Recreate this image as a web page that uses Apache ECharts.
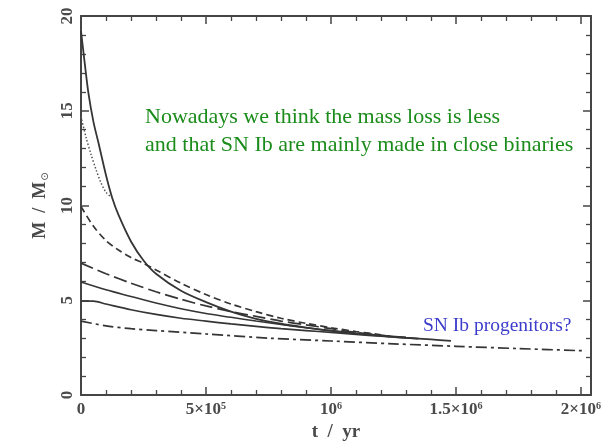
<!DOCTYPE html>
<html>
<head>
<meta charset="utf-8">
<script src="https://cdn.jsdelivr.net/npm/echarts@6/dist/echarts.min.js"></script>
<style>
  html, body { margin: 0; padding: 0; background: #fff; }
  #chart { width: 607px; height: 447px; }
</style>
</head>
<body>
<div id="chart"></div>
<script>
// Time in units of 10^6 yr, mass in solar masses
const xTickLabels = ['0', '5×10⁵', '10⁶', '1.5×10⁶', '2×10⁶'];
const yTickLabels = ['0', '5', '10', '15', '20'];

const t20 = [0, 0.015, 0.03, 0.05, 0.07, 0.1, 0.125, 0.15, 0.2, 0.25, 0.3, 0.4, 0.5, 0.6, 0.7, 0.8, 0.9, 1.0, 1.1, 1.2, 1.3, 1.4, 1.48];
const m20 = [19.2, 17.5, 15.9, 14.4, 13.3, 11.6, 10.4, 9.5, 8.1, 7.1, 6.4, 5.5, 4.9, 4.4, 4.02, 3.76, 3.56, 3.38, 3.24, 3.12, 3.02, 2.93, 2.86];

const t15 = [0, 0.02, 0.04, 0.06, 0.08, 0.1, 0.125];
const m15 = [14.7, 13.6, 12.7, 11.9, 11.2, 10.7, 10.4];

const t10 = [0, 0.05, 0.1, 0.15, 0.2, 0.25, 0.3, 0.4, 0.5, 0.6, 0.7, 0.8, 0.9, 1.0, 1.1, 1.2];
const m10 = [9.95, 8.9, 8.15, 7.65, 7.25, 6.95, 6.6, 5.9, 5.3, 4.8, 4.4, 4.05, 3.78, 3.55, 3.35, 3.18];

const t7 = [0, 0.1, 0.2, 0.3, 0.4, 0.5, 0.6, 0.7, 0.8, 0.9, 1.0, 1.1, 1.25];
const m7 = [6.96, 6.4, 5.9, 5.45, 5.05, 4.7, 4.4, 4.15, 3.9, 3.7, 3.5, 3.3, 3.08];

const t6 = [0, 0.1, 0.2, 0.3, 0.4, 0.5, 0.6, 0.7, 0.8, 0.9, 1.0, 1.1, 1.2, 1.3];
const m6 = [5.96, 5.55, 5.2, 4.85, 4.55, 4.3, 4.1, 3.9, 3.72, 3.55, 3.4, 3.27, 3.15, 3.05];

const t5 = [0, 0.05, 0.1, 0.2, 0.3, 0.4, 0.5, 0.6, 0.7, 0.8, 0.9, 1.0, 1.1, 1.2, 1.35];
const m5 = [4.96, 4.95, 4.8, 4.5, 4.25, 4.05, 3.9, 3.75, 3.62, 3.5, 3.4, 3.3, 3.2, 3.1, 2.97];

const t4 = [0, 0.1, 0.2, 0.3, 0.5, 0.75, 1.0, 1.25, 1.5, 1.75, 2.02];
const m4 = [3.9, 3.65, 3.5, 3.4, 3.22, 3.0, 2.85, 2.7, 2.57, 2.45, 2.33];

const noteLines = ['Nowadays we think the mass loss is less', 'and that SN Ib are mainly made in close binaries'];
const progenitorNote = 'SN Ib progenitors?';

function pairs(t, m) { return t.map((v, i) => [v, m[i]]); }

const ink = '#353535';
const axisInk = '#454545';
const labelInk = '#4a4a4a';
const tickFont = { fontFamily: 'Liberation Serif', fontWeight: 'bold', fontSize: 17, color: labelInk };

function curve(name, t, m, type, width, color) {
  return {
    name, type: 'line', data: pairs(t, m), symbol: 'none', smooth: 0.3,
    xAxisIndex: 0, yAxisIndex: 0,
    lineStyle: { color: color || ink, width: width || 1.5, type: type }
  };
}

function frame(extra) {
  return Object.assign({
    type: 'value',
    axisLine: { show: true, onZero: false, lineStyle: { color: axisInk, width: 2 } },
    axisTick: { inside: true, length: 8, lineStyle: { color: axisInk, width: 1.5 } },
    minorTick: { show: true, splitNumber: 5, length: 5, lineStyle: { color: axisInk, width: 1.3 } },
    splitLine: { show: false },
    axisLabel: { show: false }
  }, extra);
}

const chart = echarts.init(document.getElementById('chart'), null, { renderer: 'canvas' });
chart.setOption({
  animation: false,
  backgroundColor: '#fff',
  grid: { left: 81, right: 16, top: 16, bottom: 51, containLabel: false },
  xAxis: [
    frame({
      position: 'bottom', min: 0, max: 2.04, interval: 0.5,
      axisLabel: Object.assign({}, tickFont, {
        show: true, margin: 6, showMaxLabel: false,
        formatter: v => { const i = Math.round(v / 0.5); return Math.abs(v - i * 0.5) < 1e-6 ? xTickLabels[i] : ''; }
      }),
      name: 't  /  yr', nameLocation: 'middle', nameGap: 28,
      nameTextStyle: { fontFamily: 'Liberation Serif', fontWeight: 'bold', fontSize: 19, color: labelInk }
    }),
    frame({ position: 'top', min: 0, max: 2.04, interval: 0.5 })
  ],
  yAxis: [
    frame({
      position: 'left', min: 0, max: 20, interval: 5,
      axisLabel: Object.assign({}, tickFont, {
        show: true, rotate: 90, margin: 5,
        formatter: v => yTickLabels[Math.round(v / 5)]
      }),
      name: '{m|M  /  M}{s|⊙}', nameLocation: 'middle', nameGap: 31, nameRotate: 90,
      nameTextStyle: {
        rich: {
          m: { fontFamily: 'Liberation Serif', fontWeight: 'bold', fontSize: 18, color: labelInk },
          s: { fontFamily: 'DejaVu Sans', fontSize: 10, color: labelInk, verticalAlign: 'bottom', padding: [9, 0, 0, 1] }
        }
      }
    }),
    frame({ position: 'right', min: 0, max: 20, interval: 5 })
  ],
  series: [
    curve('20', t20, m20, 'solid', 1.8),
    curve('15', t15, m15, [1.5, 2], 1.5, '#555'),
    curve('10', t10, m10, [7, 4], 1.7),
    curve('7', t7, m7, [13, 5], 1.7),
    curve('6', t6, m6, 'solid', 1.5),
    curve('5', t5, m5, 'solid', 1.7),
    curve('4', t4, m4, [11, 4, 3, 4], 1.7)
  ],
  graphic: [
    {
      type: 'text', left: 145, top: 103,
      style: { text: noteLines.join('\n'), fill: '#1b8c1b', font: '22px "Liberation Serif"', lineHeight: 28 }
    },
    {
      type: 'text', left: 423, top: 316,
      style: { text: progenitorNote, fill: '#3c3ccc', font: '19.5px "Liberation Serif"' }
    }
  ]
});
</script>
</body>
</html>
